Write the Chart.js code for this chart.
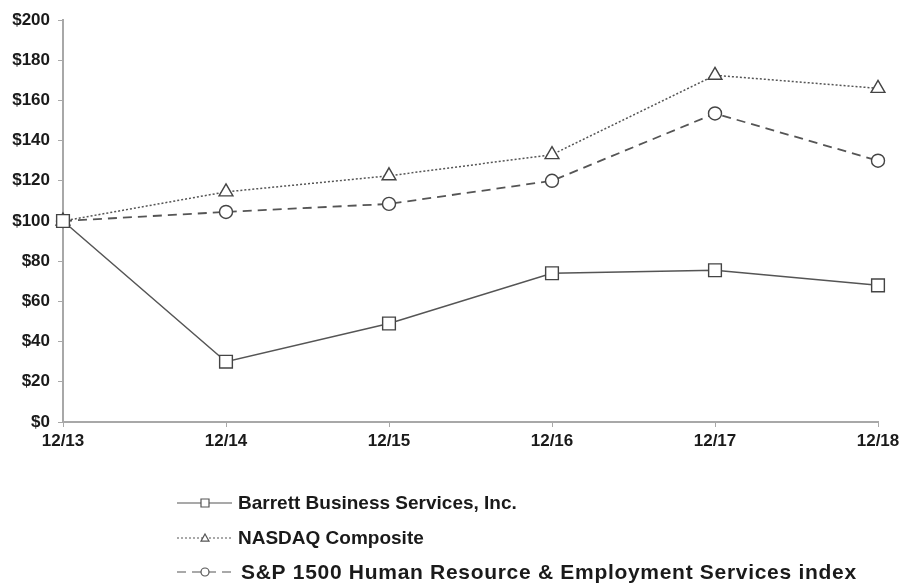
<!DOCTYPE html>
<html>
<head>
<meta charset="utf-8">
<script src="https://cdn.jsdelivr.net/npm/chart.js@4"></script>
<style>
  html, body { margin: 0; padding: 0; background: #fff; }
  #wrap { width: 901px; height: 584px; position: relative; }
</style>
</head>
<body>
<div id="wrap"><canvas id="perfChart" width="901" height="584"></canvas></div>
<script>
// values
const years = ['12/13', '12/14', '12/15', '12/16', '12/17', '12/18'];
const barrett = [100, 30, 49, 74, 75.5, 68];
const nasdaq = [100, 114.5, 122.5, 133, 172.5, 166];
const spHr = [100, 104.5, 108.5, 120, 153.5, 130];
const seriesNames = [
    'Barrett Business Services, Inc.',
    'NASDAQ Composite',
    'S&P 1500 Human Resource & Employment Services index'
];

const lineColor = '#555';
const axisColor = '#a8a8a8';
const fontFamily = '"Liberation Sans", Arial, sans-serif';

function drawMarker(ctx, style, x, y, r) {
    ctx.beginPath();
    if (style === 'rect') {
        ctx.rect(x - r, y - r, r * 2, r * 2);
    } else if (style === 'triangle') {
        ctx.moveTo(x, y - r);
        ctx.lineTo(x + r, y + r * 0.8);
        ctx.lineTo(x - r, y + r * 0.8);
        ctx.closePath();
    } else {
        ctx.arc(x, y, r, 0, Math.PI * 2);
    }
    ctx.fillStyle = '#fff';
    ctx.fill();
    ctx.stroke();
}

// legend below the chart: line sample with its dash, a small marker, then the name
// (the last row is set a little wider in the original)
const legendPlugin = {
    id: 'bottomLegend',
    afterDraw(chart) {
        const ctx = chart.ctx;
        const rows = [503, 538, 572];
        chart.data.datasets.forEach((ds, i) => {
            const y = rows[i];
            ctx.save();
            ctx.strokeStyle = lineColor;
            ctx.lineWidth = 1.2;
            ctx.setLineDash(ds.borderDash || []);
            ctx.beginPath();
            ctx.moveTo(177, y);
            ctx.lineTo(232, y);
            ctx.stroke();
            ctx.setLineDash([]);
            drawMarker(ctx, ds.pointStyle, 205, y, 4);
            ctx.fillStyle = '#1a1a1a';
            ctx.textBaseline = 'middle';
            if (i === 2) {
                ctx.font = 'bold 21px ' + fontFamily;
                ctx.letterSpacing = '0.7px';
                ctx.fillText(ds.label, 241, y + 1);
            } else {
                ctx.font = 'bold 19px ' + fontFamily;
                ctx.fillText(ds.label, 238, y + 1);
            }
            ctx.restore();
        });
    }
};

const ctx = document.getElementById('perfChart');
new Chart(ctx, {
    type: 'line',
    data: {
        labels: years,
        datasets: [
            {
                label: seriesNames[0],
                data: barrett,
                borderColor: lineColor,
                borderWidth: 1.5,
                pointStyle: 'rect',
                pointRadius: 9,
                pointBorderWidth: 1.4,
                pointBackgroundColor: '#fff',
                pointBorderColor: '#444'
            },
            {
                label: seriesNames[1],
                data: nasdaq,
                borderColor: lineColor,
                borderWidth: 1.5,
                borderDash: [2, 2],
                pointStyle: 'triangle',
                pointRadius: 8,
                pointBorderWidth: 1.4,
                pointBackgroundColor: '#fff',
                pointBorderColor: '#444'
            },
            {
                label: seriesNames[2],
                data: spHr,
                borderColor: lineColor,
                borderWidth: 1.8,
                borderDash: [9, 6],
                pointStyle: 'circle',
                pointRadius: 6.5,
                pointBorderWidth: 1.4,
                pointBackgroundColor: '#fff',
                pointBorderColor: '#444'
            }
        ]
    },
    options: {
        responsive: false,
        animation: false,
        clip: false,
        layout: { padding: { top: 20, right: 23, left: 0, bottom: 0 } },
        plugins: {
            legend: { display: false },
            tooltip: { enabled: false }
        },
        elements: { line: { tension: 0 } },
        scales: {
            x: {
                offset: false,
                grid: { drawOnChartArea: false, color: axisColor, tickLength: 5 },
                border: { color: axisColor, width: 2 },
                ticks: {
                    color: '#1a1a1a',
                    font: { family: fontFamily, size: 17, weight: 'bold' },
                    padding: 4,
                    maxRotation: 0
                },
                afterFit(scale) {
                    scale.height = 162;
                    scale.paddingLeft = 0;
                    scale.paddingRight = 0;
                }
            },
            y: {
                min: 0,
                max: 200,
                grid: { drawOnChartArea: false, color: axisColor, tickLength: 5 },
                border: { color: axisColor, width: 2 },
                ticks: {
                    stepSize: 20,
                    color: '#1a1a1a',
                    font: { family: fontFamily, size: 17, weight: 'bold' },
                    padding: 8,
                    callback: (v) => '$' + v
                },
                afterFit(scale) { scale.width = 63; }
            }
        }
    },
    plugins: [legendPlugin]
});
</script>
</body>
</html>
